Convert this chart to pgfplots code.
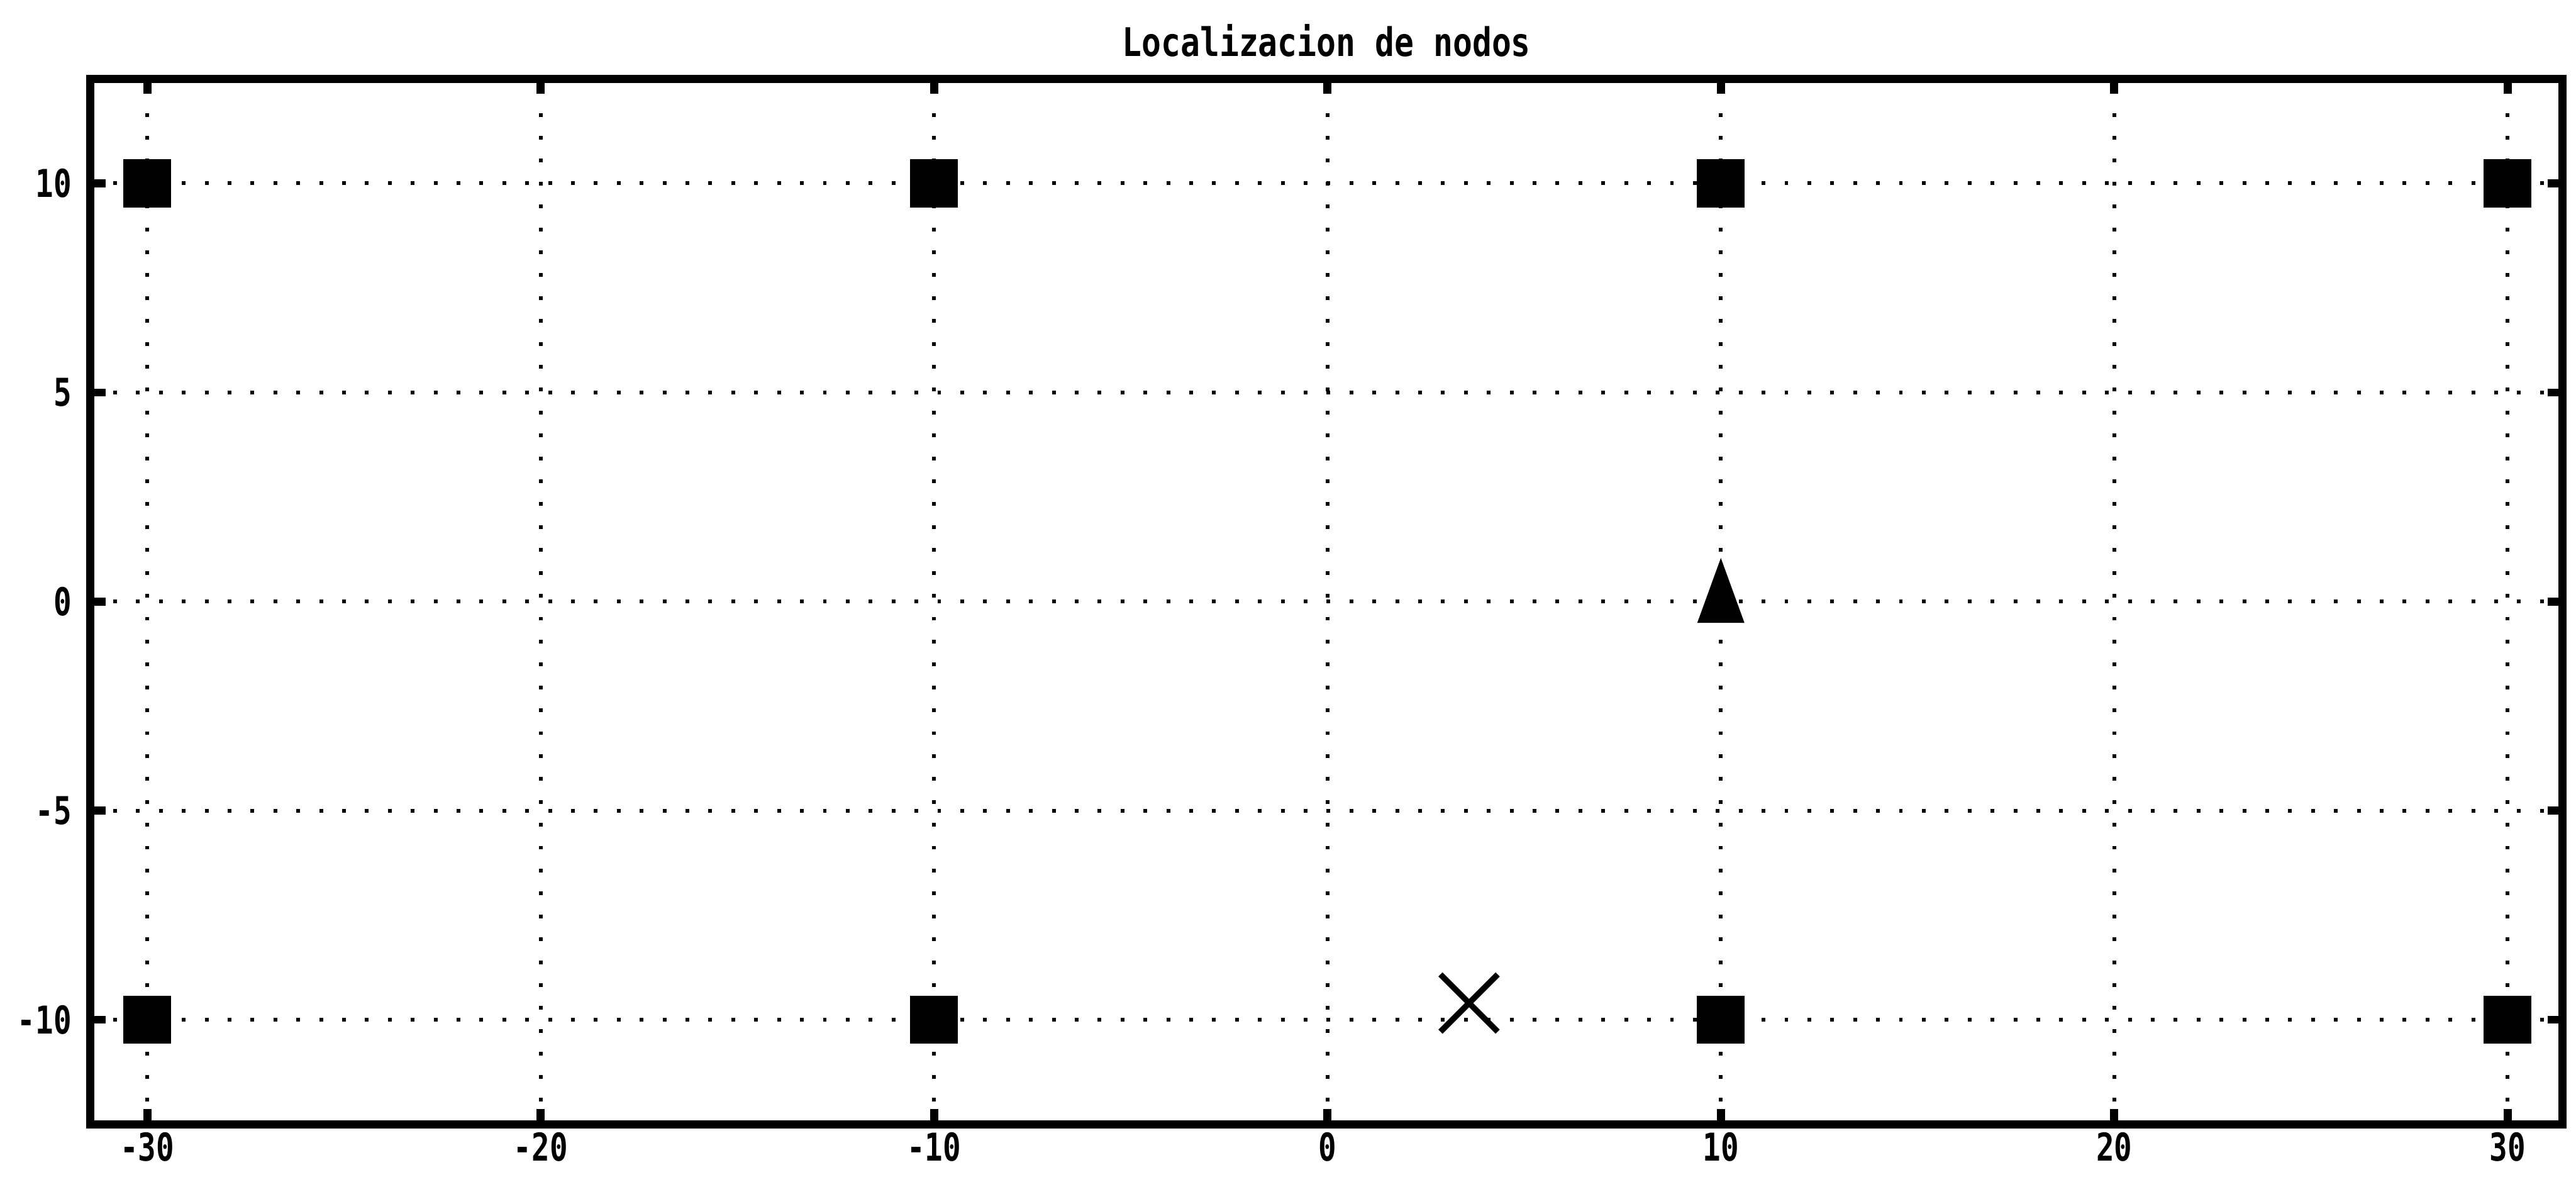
\documentclass[border=0pt]{standalone}
\usepackage{fontspec}
\setmainfont[FakeStretch=0.82]{DejaVu Sans Mono}
\newfontfamily\tickfont[FakeStretch=0.78]{DejaVu Sans Mono}
\usepackage{pgfplots}
\pgfplotsset{compat=1.18}
\begin{document}
\begin{tikzpicture}
\begin{axis}[
  at={(0,0)}, anchor=south west,
  scale only axis,
  width=16.32cm, height=6.9cm,
  xmin=-31.45, xmax=31.4,
  ymin=-12.5, ymax=12.5,
  xtick={-30,-20,-10,0,10,20,30},
  ytick={-10,-5,0,5,10},
  axis line style={line width=1.5pt},
  every tick/.style={line width=1.5pt, black},
  tick align=inside,
  major tick length=0.1cm,
  xtick pos=both, ytick pos=both,
  grid=major,
  major grid style={black, line width=0.7pt, dash pattern=on 0.7pt off 3.6pt},
  /pgf/number format/assume math mode=true,
  tick label style={font=\tickfont\fontsize{7.2}{8}\selectfont\bfseries},
  xticklabel style={yshift=0.07cm},
  every axis title/.style={at={(0.5,1)}, anchor=south, yshift=0.02cm, font=\fontsize{7.4}{8}\selectfont\bfseries},
  title={Localizacion de nodos},
  clip=false,
]
\addplot[only marks, mark=square*, mark size=4.3pt, black] coordinates {
  (-30,10) (-10,10) (10,10) (30,10)
  (-30,-10) (-10,-10) (10,-10) (30,-10)
};
\addplot[only marks, mark=triangle*, mark size=7.6pt, black, mark options={xscale=0.63}] coordinates {
  (10,0)
};
\addplot[only marks, mark=x, mark size=7.6pt, black, mark options={line width=1.1pt}] coordinates {
  (3.6,-9.6)
};
\end{axis}
\pgfresetboundingbox
\path[use as bounding box] (-0.596,-0.38) rectangle (16.408,7.42);
\end{tikzpicture}
\end{document}
